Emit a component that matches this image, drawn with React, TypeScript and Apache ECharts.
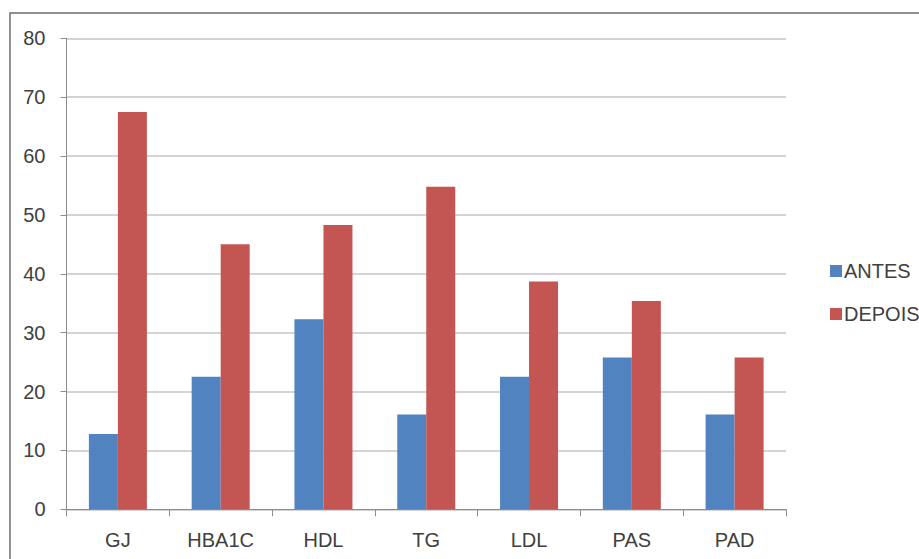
import React, { useEffect, useRef } from "react";
import * as echarts from "echarts";

const categories = ["GJ", "HBA1C", "HDL", "TG", "LDL", "PAS", "PAD"];
const antes = [12.8, 22.5, 32.3, 16.1, 22.5, 25.8, 16.1];
const depois = [67.5, 45.0, 48.3, 54.8, 38.7, 35.4, 25.8];
const seriesNames = ["ANTES", "DEPOIS"];
const yTicks = { min: 0, max: 80, interval: 10 };

const FONT = "'Liberation Sans', Arial, sans-serif";
const TEXT = "#404040";

export default function App() {
  const ref = useRef<HTMLDivElement>(null);
  useEffect(() => {
    if (!ref.current) return;
    const chart = echarts.init(ref.current, undefined, { renderer: "svg" });
    chart.setOption({
      animation: false,
      backgroundColor: "#ffffff",
      textStyle: { fontFamily: FONT },
      grid: { left: 66.5, right: 133, top: 38.3, bottom: 49.7, containLabel: false },
      legend: {
        orient: "vertical",
        left: 825,
        top: 256,
        itemWidth: 12,
        itemHeight: 12,
        itemGap: 23,
        icon: "rect",
        data: seriesNames,
        textStyle: { fontSize: 20, color: TEXT, fontFamily: FONT, padding: [0, 0, 0, -3] },
      },
      xAxis: {
        type: "category",
        data: categories,
        axisLine: { show: true, lineStyle: { color: "#8c8c8c", width: 1 } },
        axisTick: { show: true, length: 7, lineStyle: { color: "#8c8c8c" } },
        axisLabel: { fontSize: 20, color: TEXT, margin: 21, fontFamily: FONT },
      },
      yAxis: {
        type: "value",
        min: yTicks.min,
        max: yTicks.max,
        interval: yTicks.interval,
        axisLine: { show: true, lineStyle: { color: "#8c8c8c", width: 1 } },
        axisTick: { show: true, length: 6, lineStyle: { color: "#8c8c8c" } },
        axisLabel: { fontSize: 20, color: TEXT, margin: 21, fontFamily: FONT },
        splitLine: { show: true, lineStyle: { color: "#c6c6c6", width: 1.5 } },
      },
      series: [
        {
          name: seriesNames[0],
          type: "bar",
          data: antes,
          barWidth: 29,
          barGap: "0%",
          itemStyle: { color: "#5083c0" },
        },
        {
          name: seriesNames[1],
          type: "bar",
          data: depois,
          barWidth: 29,
          barGap: "0%",
          itemStyle: { color: "#c35552" },
        },
      ],
      graphic: [
        {
          type: "polyline",
          shape: { points: [[10, 600], [10, 13], [930, 13]] },
          style: { stroke: "#6e6e6e", lineWidth: 1.5, fill: null },
          silent: true,
        },
      ],
    });
    return () => chart.dispose();
  }, []);
  return <div ref={ref} style={{ width: 919, height: 559, position: "absolute", left: 0, top: 0 }} />;
}
